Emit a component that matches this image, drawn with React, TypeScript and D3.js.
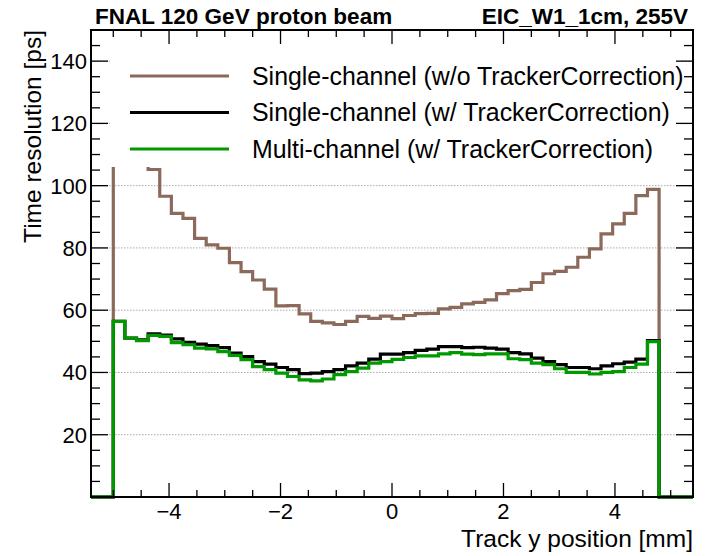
import React, { useEffect, useRef } from 'react';
import * as d3 from 'd3';

// bins: 48 equal bins from -5 to 5 mm (last one empty)
const binLo = -5;
const binHi = 5;
const nBins = 48;

const brownVals = [112, 108, 107, 105.2, 96.6, 91.1, 89.5, 83.1, 81.0, 79.9, 75.3, 72.4, 69.7, 66.8, 61.4, 61.5,
  58.8, 56.4, 55.9, 55.4, 56.4, 58.0, 57.4, 58.1, 57.3, 58.3, 58.9, 59.0, 60.4, 60.9, 62.0, 62.5, 63.3, 65.3, 66.3,
  66.7, 68.9, 71.7, 72.5, 73.8, 77.0, 79.7, 84.5, 87.7, 91.1, 96.8, 98.8, 0];

const blackVals = [56.4, 51.0, 50.5, 52.4, 52.0, 50.8, 49.7, 49.1, 48.6, 48.0, 46.2, 45.1, 43.5, 42.7, 41.6, 40.9,
  39.6, 39.8, 40.3, 40.9, 42.1, 43.0, 44.3, 45.9, 45.9, 46.4, 47.1, 47.5, 48.3, 48.3, 48.0, 48.1, 47.8, 47.5, 46.4,
  46.0, 44.6, 43.5, 42.5, 41.6, 41.6, 41.2, 42.1, 42.8, 43.3, 44.3, 50.2, 0];

const greenVals = [56.4, 51.0, 50.2, 51.9, 51.6, 49.6, 48.9, 47.8, 47.6, 46.7, 45.5, 44.1, 41.9, 40.9, 39.8, 38.7,
  37.6, 37.3, 37.9, 39.3, 40.3, 41.4, 43.0, 43.5, 44.2, 44.8, 45.3, 45.3, 46.0, 46.4, 45.9, 45.7, 46.0, 46.0, 44.4,
  44.1, 43.0, 42.5, 41.2, 40.0, 40.0, 39.5, 40.0, 40.3, 41.6, 42.7, 49.9, 0];

const series = [
  { label: 'Single-channel (w/o TrackerCorrection)', values: brownVals, color: '#8b6a5b' },
  { label: 'Single-channel (w/ TrackerCorrection)', values: blackVals, color: '#000000' },
  { label: 'Multi-channel (w/ TrackerCorrection)', values: greenVals, color: '#009a00' },
];

const xTicks = [-4, -2, 0, 2, 4];
const yTicks = [20, 40, 60, 80, 100, 120, 140];
const gridVals = [20, 40, 60, 80, 100, 120, 140];

const W = 709;
const H = 556;
const frame = { left: 91, right: 693, top: 30, bottom: 497 };
const font = 'Liberation Sans, Arial, Helvetica, sans-serif';

export default function App() {
  const ref = useRef<SVGSVGElement>(null);

  useEffect(() => {
    if (!ref.current) return;
    const svg = d3.select(ref.current);
    svg.selectAll('*').remove();

    const x = d3.scaleLinear().domain([-5.4, 5.4]).range([frame.left, frame.right]);
    const y = d3.scaleLinear().domain([0, 150]).range([frame.bottom, frame.top]);

    svg.append('rect').attr('width', W).attr('height', H).attr('fill', '#fff');

    // dotted horizontal grid
    svg.append('g').selectAll('line').data(gridVals).enter().append('line')
      .attr('x1', frame.left).attr('x2', frame.right)
      .attr('y1', d => y(d)).attr('y2', d => y(d))
      .attr('stroke', '#a8a8a8').attr('stroke-width', 1).attr('stroke-dasharray', '1.5,1.5');

    // histograms
    const bw = (binHi - binLo) / nBins;
    const line = d3.line<[number, number]>().x(d => x(d[0])).y(d => y(d[1])).curve(d3.curveStepAfter);
    series.forEach(s => {
      const pts: [number, number][] = [[-5.4, 0]];
      s.values.forEach((v, i) => pts.push([binLo + i * bw, v]));
      pts.push([binHi, 0]);
      pts.push([5.4, 0]);
      svg.append('path').attr('d', line(pts) as string)
        .attr('fill', 'none').attr('stroke', s.color).attr('stroke-width', 3.2)
        .attr('stroke-linejoin', 'miter');
    });

    // legend
    const lg = svg.append('g');
    lg.append('rect').attr('x', 110).attr('y', 31).attr('width', 572).attr('height', 136).attr('fill', '#fff');
    series.forEach((s, i) => {
      const ly = 76 + i * 36.5;
      lg.append('line').attr('x1', 130).attr('x2', 229).attr('y1', ly).attr('y2', ly)
        .attr('stroke', s.color).attr('stroke-width', 3.2);
      lg.append('text').attr('x', 252).attr('y', ly).attr('dy', '0.35em')
        .attr('font-family', font).attr('font-size', 24.9).attr('fill', '#000').text(s.label);
    });

    // frame + ticks
    const ax = svg.append('g').attr('stroke', '#000');
    const xMinor = d3.range(-5, 5.01, 0.5);
    const yMinor = d3.range(5, 150, 5);
    xMinor.forEach(v => {
      const major = xTicks.includes(v);
      const len = major ? 14 : 7;
      ax.append('line').attr('x1', x(v)).attr('x2', x(v)).attr('y1', frame.bottom).attr('y2', frame.bottom - len).attr('stroke-width', 1.3);
      ax.append('line').attr('x1', x(v)).attr('x2', x(v)).attr('y1', frame.top).attr('y2', frame.top + len).attr('stroke-width', 1.3);
    });
    yMinor.forEach(v => {
      const major = yTicks.includes(v);
      const len = major ? 17 : 9;
      ax.append('line').attr('y1', y(v)).attr('y2', y(v)).attr('x1', frame.left).attr('x2', frame.left + len).attr('stroke-width', 1.3);
      ax.append('line').attr('y1', y(v)).attr('y2', y(v)).attr('x1', frame.right).attr('x2', frame.right - len).attr('stroke-width', 1.3);
    });
    ax.append('rect').attr('x', frame.left).attr('y', frame.top)
      .attr('width', frame.right - frame.left).attr('height', frame.bottom - frame.top)
      .attr('fill', 'none').attr('stroke-width', 2);

    // tick labels
    const fmt = (v: number) => (v < 0 ? '\u2212' + Math.abs(v) : String(v));
    svg.append('g').selectAll('text').data(xTicks).enter().append('text')
      .attr('x', d => x(d)).attr('y', 519).attr('text-anchor', 'middle')
      .attr('font-family', font).attr('font-size', 22).text(d => fmt(d));
    svg.append('g').selectAll('text').data(yTicks).enter().append('text')
      .attr('x', 87).attr('y', d => y(d)).attr('dy', '0.36em').attr('text-anchor', 'end')
      .attr('font-family', font).attr('font-size', 22).text(d => String(d));

    // axis titles
    svg.append('text').attr('x', frame.right).attr('y', 547).attr('text-anchor', 'end')
      .attr('font-family', font).attr('font-size', 24.5).text('Track y position [mm]');
    svg.append('text').attr('transform', `translate(41,${frame.top}) rotate(-90)`).attr('text-anchor', 'end')
      .attr('font-family', font).attr('font-size', 24.5).text('Time resolution [ps]');

    // titles
    svg.append('text').attr('x', 95).attr('y', 24).attr('font-family', font).attr('font-weight', 'bold')
      .attr('font-size', 22.5).text('FNAL 120 GeV proton beam');
    svg.append('text').attr('x', 688).attr('y', 24).attr('text-anchor', 'end').attr('font-family', font)
      .attr('font-weight', 'bold').attr('font-size', 22.5).text('EIC_W1_1cm, 255V');
  }, []);

  return (
    <div style={{ position: 'fixed', left: 0, top: 0 }}>
      <svg ref={ref} width={W} height={H} style={{ display: 'block' }} />
    </div>
  );
}
